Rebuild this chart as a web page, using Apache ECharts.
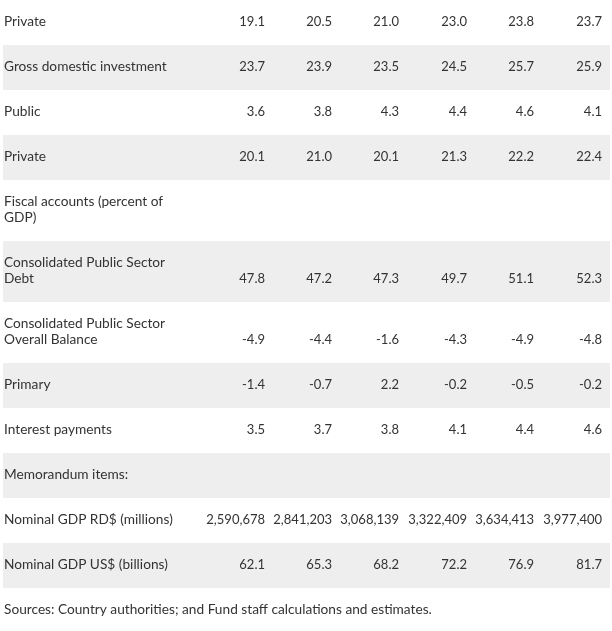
<!DOCTYPE html>
<html>
<head>
<meta charset="utf-8">
<script src="https://cdn.jsdelivr.net/npm/echarts@6/dist/echarts.min.js"></script>
<style>html,body{margin:0;padding:0;background:#fff}#c{width:612px;height:631px}</style>
</head>
<body>
<div id="c"></div>
<script>
// ---- data ----
const rowLabels = [
  'Private',
  'Gross domestic investment',
  'Public',
  'Private',
  'Fiscal accounts (percent of\nGDP)',
  'Consolidated Public Sector\nDebt',
  'Consolidated Public Sector\nOverall Balance',
  'Primary',
  'Interest payments',
  'Memorandum items:',
  'Nominal GDP RD$ (millions)',
  'Nominal GDP US$ (billions)'
];
const privateSav   = [19.1, 20.5, 21.0, 23.0, 23.8, 23.7];
const grossInv     = [23.7, 23.9, 23.5, 24.5, 25.7, 25.9];
const publicInv    = [3.6, 3.8, 4.3, 4.4, 4.6, 4.1];
const privateInv   = [20.1, 21.0, 20.1, 21.3, 22.2, 22.4];
const fiscalHead   = null;
const debt         = [47.8, 47.2, 47.3, 49.7, 51.1, 52.3];
const overallBal   = [-4.9, -4.4, -1.6, -4.3, -4.9, -4.8];
const primaryBal   = [-1.4, -0.7, 2.2, -0.2, -0.5, -0.2];
const interestPay  = [3.5, 3.7, 3.8, 4.1, 4.4, 4.6];
const memoHead     = null;
const gdpRD        = [2590678, 2841203, 3068139, 3322409, 3634413, 3977400];
const gdpUS        = [62.1, 65.3, 68.2, 72.2, 76.9, 81.7];
const sourceNote = 'Sources: Country authorities; and Fund staff calculations and estimates.';

const rowValues = [privateSav, grossInv, publicInv, privateInv, fiscalHead, debt,
                   overallBal, primaryBal, interestPay, memoHead, gdpRD, gdpUS];
const rowFormats = ['d1','d1','d1','d1',null,'d1','d1','d1','d1',null,'int','d1'];

// ---- layout ----
const W = 612, H = 631;
const FONT = 'Lato, sans-serif';
const TXT = '#333333';
const colRight = [265, 332, 399, 467, 534, 602];
const rowH = rowLabels.map(l => 29 + 16 * l.split('\n').length);
const rowTop = [];
rowH.reduce((acc, h, i) => { rowTop[i] = acc; return acc + h; }, 0);

function fmt(v, f) {
  if (f === 'int') return v.toLocaleString('en-US');
  return v.toFixed(1);
}

const chart = echarts.init(document.getElementById('c'), null, {renderer: 'canvas'});
chart.setOption({
  backgroundColor: '#ffffff',
  animation: false,
  title: {
    text: sourceNote, left: 4, top: 603, padding: 0,
    textStyle: {fontFamily: FONT, fontSize: 13.7, fontWeight: 'normal', color: TXT}
  },
  grid: {left: 0, right: 0, top: 0, bottom: 0},
  xAxis: {type: 'value', min: 0, max: W, show: false},
  yAxis: {type: 'value', min: 0, max: H, inverse: true, show: false},
  series: [{
    type: 'custom',
    data: rowLabels.map((l, i) => [i]),
    renderItem: function (params, api) {
      const i = api.value(0);
      const top = rowTop[i], h = rowH[i];
      const lines = rowLabels[i].split('\n').length;
      const children = [];
      if (i % 2 === 1) {
        const a = api.coord([3, top]);
        const b = api.coord([610, top + h]);
        children.push({type: 'rect', shape: {x: a[0], y: a[1], width: b[0] - a[0], height: b[1] - a[1]},
          style: {fill: '#eeeeee'}});
      }
      const lp = api.coord([4, top + h / 2 - 0.5]);
      children.push({type: 'text', x: lp[0], y: lp[1],
        style: {text: rowLabels[i], fill: TXT, font: '13.7px ' + FONT, lineHeight: 16,
          align: 'left', verticalAlign: 'middle'}});
      const vals = rowValues[i];
      if (vals) {
        vals.forEach((v, j) => {
          const p = api.coord([colRight[j], top + h / 2 - 0.5 + (lines - 1) * 8]);
          children.push({type: 'text', x: p[0], y: p[1],
            style: {text: fmt(v, rowFormats[i]), fill: TXT, font: '13px ' + FONT,
              align: 'right', verticalAlign: 'middle'}});
        });
      }
      return {type: 'group', children: children};
    }
  }]
});
</script>
</body>
</html>
